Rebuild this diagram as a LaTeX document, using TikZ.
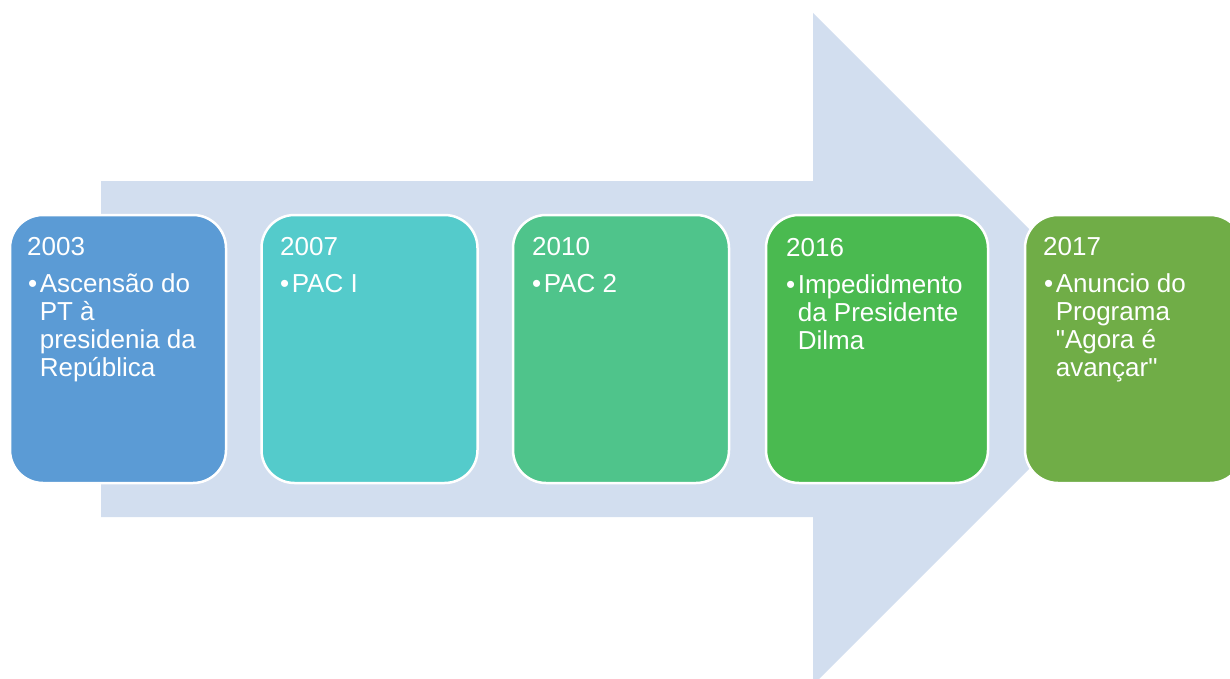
\documentclass[tikz,border=0pt]{standalone}
\usepackage{fontspec}
\setmainfont{Liberation Sans}[Ligatures=TeXOff]
\usetikzlibrary{calc}

\definecolor{arrowfill}{HTML}{D2DEEF}
\definecolor{cardA}{HTML}{5B9BD5}
\definecolor{cardB}{HTML}{54CBCB}
\definecolor{cardC}{HTML}{4FC48B}
\definecolor{cardD}{HTML}{4ABA50}
\definecolor{cardE}{HTML}{70AD47}

\tikzset{
  card/.style={draw=white, line width=2.5pt, rounded corners=33pt, inner sep=0pt,
    fill=#1},
  yeartxt/.style={anchor=base west, inner sep=0pt, text=white,
    font=\fontsize{26}{28}\selectfont},
  itemtxt/.style={anchor=base west, inner sep=0pt, text=white,
    font=\fontsize{26}{28}\selectfont},
}

% bullet item with hanging indent
\newcommand{\bulletitem}[1]{%
  \begin{tabular}[t]{@{}l@{\hspace{2.5pt}}l@{}}\textbullet & #1\end{tabular}}

\begin{document}
\begin{tikzpicture}[x=1pt,y=-1pt]
  \useasboundingbox (0,0) rectangle (1230,679);
  \clip (0,0) rectangle (1230,679);

  % broad background arrow
  \fill[arrowfill] (101,181) -- (813,181) -- (813,13) -- (1149,349)
      -- (813,685) -- (813,517) -- (101,517) -- cycle;

  % cards
  \node[card=cardA, minimum width=216pt, minimum height=268pt] (b1) at (118,349) {};
  \node[card=cardB, minimum width=216pt, minimum height=268pt] (b2) at (369.5,349) {};
  \node[card=cardC, minimum width=216pt, minimum height=268pt] (b3) at (621,349) {};
  \node[card=cardD, minimum width=222pt, minimum height=268pt] (b4) at (877,349) {};
  \node[card=cardE, minimum width=218pt, minimum height=268pt] (b5) at (1134,349) {};

  % years
  \node[yeartxt] (y1) at (27,255) {2003};
  \node[yeartxt] (y2) at (280,255) {2007};
  \node[yeartxt] (y3) at (532,255) {2010};
  \node[yeartxt] (y4) at (786,256) {2016};
  \node[yeartxt] (y5) at (1043,255) {2017};

  % items
  \node[itemtxt] (i1) at (28,292) {\bulletitem{Ascensão do\\ & PT à\\ & presidenia da\\ & República}};
  \node[itemtxt] (i2) at (280,292) {\bulletitem{PAC I}};
  \node[itemtxt] (i3) at (532,292) {\bulletitem{PAC 2}};
  \node[itemtxt] (i4) at (786,293) {\bulletitem{Impedidmento\\ & da Presidente\\ & Dilma}};
  \node[itemtxt] (i5) at (1044,292) {\bulletitem{Anuncio do\\ & Programa\\ & "Agora é\\ & avançar"}};
\end{tikzpicture}
\end{document}
